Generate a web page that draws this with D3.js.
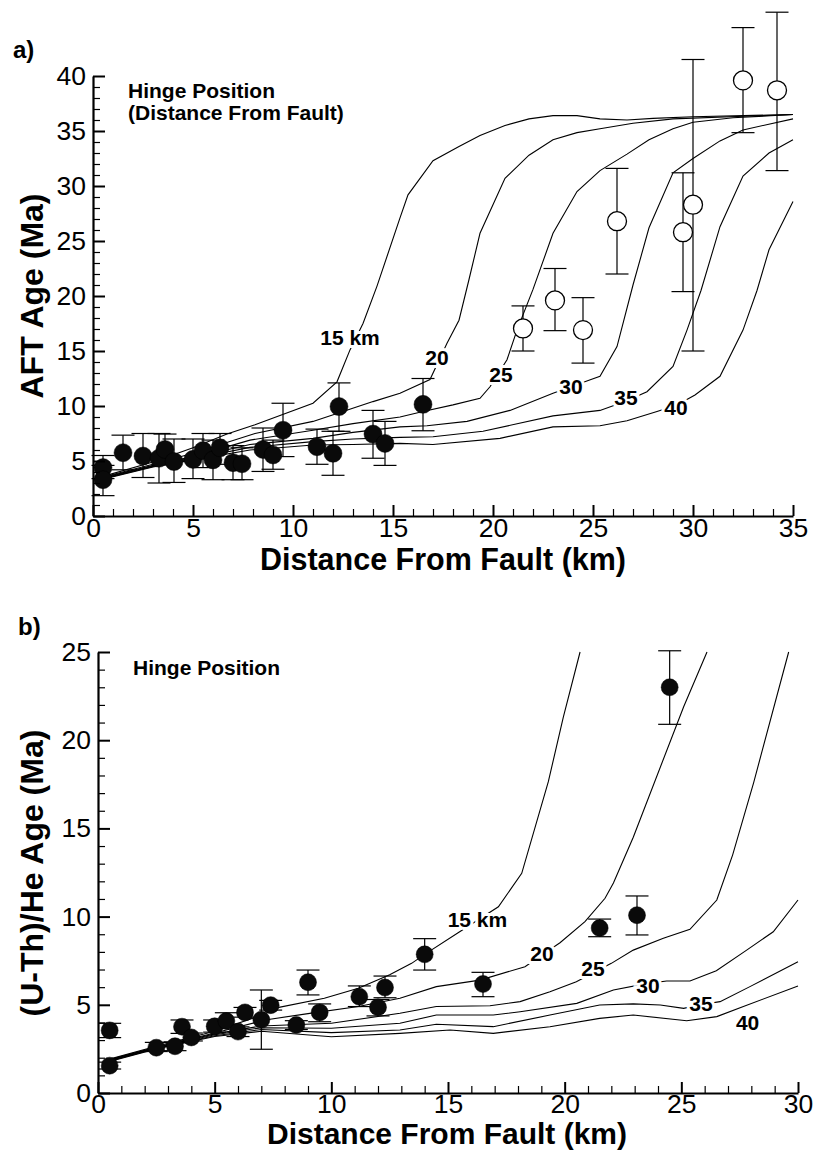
<!DOCTYPE html>
<html><head><meta charset="utf-8">
<script src="https://cdn.jsdelivr.net/npm/d3@7"></script>
<style>
body{margin:0;background:#fff;}
svg{display:block;font-family:"Liberation Sans",Arial,Helvetica,sans-serif;}
</style></head>
<body><div id="chart"></div>
<script>
// ---------- Panel a: AFT ages ----------
const aXTicks = [0,5,10,15,20,25,30,35];
const aYTicks = [0,5,10,15,20,25,30,35,40];
const aFilledX  = [0.5,0.5,1.5,2.5,3.3,3.6,4.05,5.0,5.5,6.0,6.35,7.0,7.45,8.5,9.0,9.5,11.2,12.0,12.3,14.0,14.6,16.5];
const aFilledY  = [4.4,3.3,5.75,5.45,5.25,6.05,4.95,5.15,5.95,5.1,6.2,4.85,4.75,6.05,5.55,7.8,6.3,5.7,9.95,7.45,6.6,10.15];
const aFilledLo = [3.4,1.85,4.2,3.5,3.0,4.65,3.05,3.4,4.4,3.3,4.7,3.3,3.3,4.05,4.25,5.4,4.7,3.7,7.7,5.25,4.6,7.75];
const aFilledHi = [5.5,4.6,7.35,7.5,7.5,7.45,7.0,7.0,7.5,6.9,7.5,6.4,6.2,8.0,6.9,10.25,7.9,7.7,12.1,9.6,8.6,12.5];
const aOpenX  = [21.5,23.1,24.5,26.2,29.5,30.0,32.5,34.2];
const aOpenY  = [17.05,19.6,16.9,26.8,25.8,28.3,39.6,38.7];
const aOpenLo = [15.0,16.85,13.9,22.0,20.4,15.0,34.85,31.4];
const aOpenHi = [19.1,22.5,19.85,31.6,31.2,41.5,44.4,45.8];
const aCurveNames = ["15 km","20","25","30","35","40"];
const aCurve15 = [[0.5,3.6],[3,4.9],[5,6.2],[6.7,7.45],[8.1,8.3],[11,10.25],[12.2,12.2],[12.85,15.1],[13.5,17.5],[14.2,20.9],[15.35,27.1],[15.75,29.2],[17,32.3],[18.3,33.6],[19.35,34.6],[20.6,35.5],[21.8,36.1],[23,36.4],[24.2,36.4],[25.35,36.1],[26.7,36.0],[28,36.15],[30,36.3],[35,36.5]];
const aCurve20 = [[0.5,3.55],[3,4.7],[5,5.7],[8.1,7.5],[11,8.6],[14,10.4],[15.35,11.15],[16.85,12.4],[17.7,15.7],[18.3,17.8],[18.8,21.5],[19.35,25.7],[20.6,30.7],[21.8,32.8],[23,34.2],[24.2,34.85],[25.35,35.2],[27,35.7],[29,36.1],[35,36.5]];
const aCurve25 = [[0.5,3.5],[3,4.6],[5,5.4],[7.85,6.9],[11,7.8],[13,8.4],[15.35,9.0],[16.5,9.5],[18,10.1],[19.35,10.7],[19.85,11.75],[20.7,14.2],[21.2,16.9],[22.0,20.6],[23,25.7],[24.2,29.5],[25.35,31.4],[26.7,32.9],[27.8,34.2],[29,35.2],[30,35.8],[32,36.2],[35,36.5]];
const aCurve30 = [[0.5,3.45],[3,4.55],[5,5.3],[7.85,6.5],[11,7.06],[13,7.6],[15.35,8.1],[16.7,8.2],[18.7,8.6],[20.85,9.6],[23,11.15],[24.9,12.4],[25.35,12.7],[26.2,15.4],[27.0,21.0],[27.8,26.2],[29,31.2],[30,32.5],[31.35,34.1],[32.5,35.1],[35,36.1]];
const aCurve35 = [[0.5,3.4],[3,4.5],[5,5.2],[7.85,6.24],[11,6.76],[13,7.0],[15.35,7.15],[17,7.2],[19.5,7.7],[23,9.1],[25.35,9.6],[26.6,10.4],[27.7,11.3],[29,13.6],[29.7,16.9],[30.4,20.5],[31.35,26.3],[32.5,30.9],[33.8,33.0],[35,34.2]];
const aCurve40 = [[0.5,3.35],[3,4.45],[5,5.1],[7.85,6.0],[11,6.45],[13,6.5],[15.35,6.6],[17,6.5],[20.35,7.06],[23,8.1],[25.35,8.2],[26.7,8.66],[28.2,9.5],[29.2,10.1],[30.1,11.0],[31.35,12.7],[32.5,16.9],[33.2,20.5],[33.8,24.2],[35,28.6]];
const aLabelX = [12.85,17.2,20.4,23.9,26.65,29.15];
const aLabelY = [16.2,14.45,12.9,11.8,10.8,9.9];

// ---------- Panel b: (U-Th)/He ages ----------
const bXTicks = [0,5,10,15,20,25,30];
const bYTicks = [0,5,10,15,20,25];
const bX  = [0.5,0.5,2.5,3.3,3.6,4.0,5.0,5.5,6.0,6.3,7.0,7.4,8.5,9.0,9.5,11.2,12.0,12.3,14.0,16.5,21.5,23.1,24.5];
const bY  = [3.55,1.55,2.57,2.65,3.76,3.15,3.78,4.08,3.48,4.57,4.15,4.98,3.85,6.28,4.57,5.46,4.86,5.98,7.86,6.18,9.35,10.08,23.0];
const bLo = [3.14,1.36,2.35,2.4,3.38,2.95,3.45,3.7,3.2,4.3,2.48,4.7,3.6,5.56,4.04,4.9,4.37,5.4,6.97,5.46,8.86,8.96,20.9];
const bHi = [3.95,1.75,2.87,2.9,4.14,3.4,4.14,4.55,3.75,4.85,5.84,5.25,4.1,6.97,5.05,6.07,5.3,6.63,8.75,6.84,9.86,11.17,25.07];
const bCurveNames = ["15 km","20","25","30","35","40"];
const bCurve15 = [[0.3,1.85],[2.5,2.65],[5,3.5],[7,4.4],[7.7,4.84],[9.7,5.37],[11.16,5.94],[12.5,6.7],[13.44,7.35],[14,7.86],[15.5,9.14],[17.16,10.56],[18.16,12.45],[19.3,17.65],[19.94,21.3],[20.66,25.0]];
const bCurve20 = [[0.3,1.82],[2.5,2.6],[5,3.4],[7.16,4.14],[9,4.5],[11.16,4.9],[12.94,5.37],[14.5,6.03],[16.37,6.4],[18.3,7.16],[19.0,7.8],[19.8,8.52],[20.87,9.71],[21.73,11.04],[22.09,11.9],[22.94,14.5],[25.1,21.9],[26.1,25.0]];
const bCurve25 = [[0.3,1.8],[2.5,2.58],[5,3.35],[7,3.8],[10,3.95],[12.94,4.52],[14.5,4.9],[16.8,4.95],[18.09,5.18],[19.37,5.74],[20.5,6.31],[22.0,7.35],[22.94,8.1],[24.23,8.77],[25.37,9.28],[26.52,10.94],[27.2,13.5],[28.1,17.6],[29.6,25.0]];
const bCurve30 = [[0.3,1.78],[2.5,2.55],[5,3.3],[7,3.7],[10,3.67],[12.94,3.95],[14.5,4.42],[16.94,4.42],[18.09,4.61],[20.52,5.08],[22.09,5.84],[23.5,6.2],[24.37,6.35],[25.37,6.35],[26.5,6.93],[27.8,8.1],[28.94,9.14],[30,10.94]];
const bCurve35 = [[0.3,1.75],[2.5,2.52],[5,3.25],[7,3.6],[10,3.42],[12.94,3.57],[14.5,3.9],[16.94,3.76],[19.37,4.42],[21.5,4.99],[22.94,5.05],[24.1,4.99],[25.1,4.8],[25.8,5.0],[26.66,5.18],[27.94,6.03],[30,7.44]];
const bCurve40 = [[0.3,1.72],[2.5,2.5],[5,3.2],[7,3.5],[10,3.19],[12.94,3.38],[15.09,3.57],[16.94,3.38],[19.37,3.76],[21.5,4.23],[22.94,4.42],[25.23,4.1],[26.52,4.33],[27.66,4.9],[30,6.07]];
const bLabelX = [16.26,19.03,21.21,23.57,25.84,27.84];
const bLabelY = [9.81,7.88,7.03,6.07,5.05,4.02];

const W = 814, H = 1150;
const svg = d3.select("#chart").append("svg").attr("width", W).attr("height", H);
const FONT = '"Liberation Sans",Arial,Helvetica,sans-serif';

function drawAxes(g, x, y, xT, yT, xMax, yMax, xPad) {
  const xMinor = d3.range(0, xMax + 0.001, 1).filter(v => v % 5 !== 0);
  const yMinor = d3.range(0, yMax + 0.001, 1).filter(v => v % 5 !== 0);
  const h = y.range()[0];
  const gxm = g.append("g").attr("transform", `translate(0,${h})`)
    .call(d3.axisBottom(x).tickValues(xMinor).tickSize(-7).tickFormat(""));
  gxm.select(".domain").remove();
  gxm.selectAll("line").attr("stroke-width", 1.2);
  const gym = g.append("g").attr("transform", `translate(${x.range()[0]},0)`)
    .call(d3.axisLeft(y).tickValues(yMinor).tickSize(-7).tickFormat(""));
  gym.select(".domain").remove();
  gym.selectAll("line").attr("stroke-width", 1.2);
  const gx = g.append("g").attr("transform", `translate(0,${h})`)
    .call(d3.axisBottom(x).tickValues(xT).tickSizeInner(-11).tickSizeOuter(0).tickPadding(xPad));
  const gy = g.append("g").attr("transform", `translate(${x.range()[0]},0)`)
    .call(d3.axisLeft(y).tickValues(yT).tickSizeInner(-12).tickSizeOuter(0).tickPadding(7));
  [gx, gy].forEach(a => {
    a.select(".domain").attr("stroke-width", 2.2);
    a.selectAll(".tick line").attr("stroke-width", 2);
    a.selectAll(".tick text").attr("font-size", 26.5).attr("font-family", FONT).attr("fill", "#000");
  });
}

function drawCurves(g, x, y, curves, names, lx, ly) {
  const line = d3.line().x(d => x(d[0])).y(d => y(d[1]));
  g.selectAll(null).data(curves).enter().append("path")
    .attr("d", line).attr("fill", "none").attr("stroke", "#000").attr("stroke-width", 1.1);
  g.selectAll(null).data(names).enter().append("text")
    .attr("x", (d, i) => x(lx[i])).attr("y", (d, i) => y(ly[i]))
    .attr("text-anchor", "middle").attr("dominant-baseline", "central")
    .attr("font-size", 21).attr("font-weight", "bold").attr("font-family", FONT)
    .attr("fill", "#000").attr("stroke", "#fff").attr("stroke-width", 6)
    .attr("paint-order", "stroke").text(d => d);
}

function drawPoints(g, x, y, xs, ys, lo, hi, r, filled) {
  const idx = d3.range(xs.length);
  const cw = 11.5;
  const eb = g.append("g").attr("stroke", "#000").attr("stroke-width", 1.2);
  eb.selectAll(null).data(idx).enter().append("line")
    .attr("x1", i => x(xs[i])).attr("x2", i => x(xs[i]))
    .attr("y1", i => y(lo[i])).attr("y2", i => y(hi[i]));
  eb.selectAll(null).data(idx).enter().append("line")
    .attr("x1", i => x(xs[i]) - cw).attr("x2", i => x(xs[i]) + cw)
    .attr("y1", i => y(lo[i])).attr("y2", i => y(lo[i]));
  eb.selectAll(null).data(idx).enter().append("line")
    .attr("x1", i => x(xs[i]) - cw).attr("x2", i => x(xs[i]) + cw)
    .attr("y1", i => y(hi[i])).attr("y2", i => y(hi[i]));
  g.selectAll(null).data(idx).enter().append("circle")
    .attr("cx", i => x(xs[i])).attr("cy", i => y(ys[i])).attr("r", r)
    .attr("fill", filled ? "#0a0a0a" : "#fff")
    .attr("stroke", "#000").attr("stroke-width", filled ? 0.5 : 1.3);
}

function textAt(x, y, s, size, opts = {}) {
  const t = svg.append("text").attr("x", x).attr("y", y)
    .attr("font-size", size).attr("font-family", FONT).attr("fill", "#000")
    .attr("font-weight", opts.bold ? "bold" : "normal")
    .attr("text-anchor", opts.anchor || "start").text(s);
  if (opts.rotate) t.attr("transform", `rotate(-90,${x},${y})`);
  return t;
}

// ----- Panel a -----
{
  const x = d3.scaleLinear().domain([0, 35]).range([93, 793]);
  const y = d3.scaleLinear().domain([0, 40]).range([516, 76]);
  const g = svg.append("g");
  drawCurves(g, x, y, [aCurve15, aCurve20, aCurve25, aCurve30, aCurve35, aCurve40], aCurveNames, aLabelX, aLabelY);
  drawPoints(g, x, y, aFilledX, aFilledY, aFilledLo, aFilledHi, 9, true);
  drawPoints(g, x, y, aOpenX, aOpenY, aOpenLo, aOpenHi, 9.5, false);
  drawAxes(g, x, y, aXTicks, aYTicks, 35, 40, 2);
  textAt(13, 58, "a)", 24, {bold: true});
  textAt(128, 98, "Hinge Position", 21, {bold: true});
  textAt(128, 120, "(Distance From Fault)", 21, {bold: true});
  textAt(443, 570, "Distance From Fault (km)", 30.5, {bold: true, anchor: "middle"});
  textAt(43, 296, "AFT Age (Ma)", 32, {bold: true, anchor: "middle", rotate: true});
}

// ----- Panel b -----
{
  const x = d3.scaleLinear().domain([0, 30]).range([98, 798]);
  const y = d3.scaleLinear().domain([0, 25]).range([1093, 652]);
  const g = svg.append("g");
  drawCurves(g, x, y, [bCurve15, bCurve20, bCurve25, bCurve30, bCurve35, bCurve40], bCurveNames, bLabelX, bLabelY);
  drawPoints(g, x, y, bX, bY, bLo, bHi, 8.5, true);
  drawAxes(g, x, y, bXTicks, bYTicks, 30, 25, 1);
  textAt(18, 635, "b)", 24, {bold: true});
  textAt(133, 675, "Hinge Position", 21, {bold: true});
  textAt(447, 1143.5, "Distance From Fault (km)", 30, {bold: true, anchor: "middle"});
  textAt(43, 873, "(U-Th)/He Age (Ma)", 32, {bold: true, anchor: "middle", rotate: true});
}
</script></body></html>
